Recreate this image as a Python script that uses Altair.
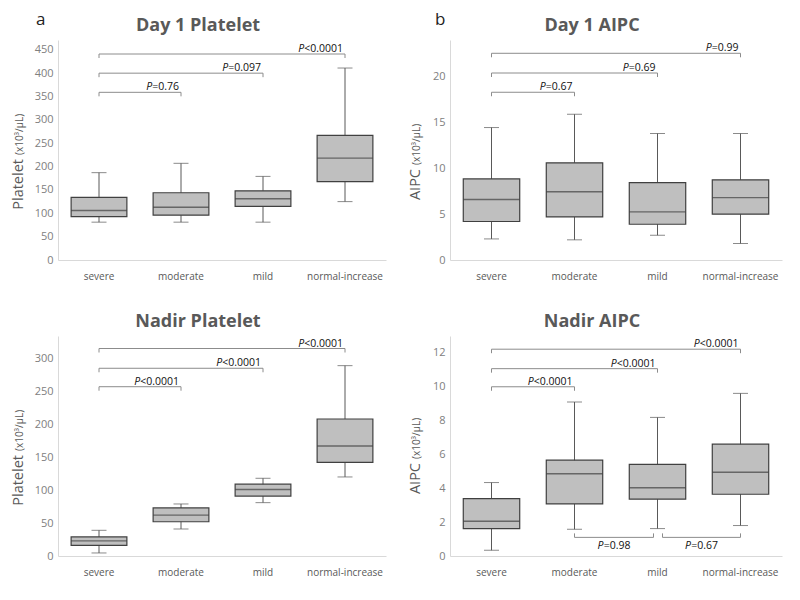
import altair as alt
import pandas as pd

cats = ["severe", "moderate", "mild", "normal-increase"]

# ---- Day 1 Platelet ----
d1p_low = [81, 81, 81, 125]
d1p_q1 = [93, 96, 115, 168]
d1p_med = [106, 113, 131, 218]
d1p_q3 = [134, 144, 148, 267]
d1p_high = [187, 207, 179, 411]
d1p_br_from = ["severe", "severe", "severe"]
d1p_br_to = ["moderate", "mild", "normal-increase"]
d1p_br_y = [359, 400, 441]
d1p_br_op = ["=", "=", "<"]
d1p_br_val = ["0.76", "0.097", "0.0001"]

# ---- Day 1 AIPC ----
d1a_low = [2.3, 2.2, 2.7, 1.8]
d1a_q1 = [4.2, 4.7, 3.9, 5.0]
d1a_med = [6.6, 7.45, 5.25, 6.8]
d1a_q3 = [8.85, 10.6, 8.45, 8.75]
d1a_high = [14.45, 15.9, 13.8, 13.8]
d1a_br_from = ["severe", "severe", "severe"]
d1a_br_to = ["moderate", "mild", "normal-increase"]
d1a_br_y = [18.3, 20.4, 22.55]
d1a_br_op = ["=", "=", "="]
d1a_br_val = ["0.67", "0.69", "0.99"]

# ---- Nadir Platelet ----
ndp_low = [4.6, 41, 81, 120]
ndp_q1 = [16, 52, 91, 142]
ndp_med = [23, 62, 101, 167]
ndp_q3 = [29, 73, 109, 208]
ndp_high = [39, 79, 118, 289]
ndp_br_from = ["severe", "severe", "severe"]
ndp_br_to = ["moderate", "mild", "normal-increase"]
ndp_br_y = [257, 285, 315]
ndp_br_op = ["<", "<", "<"]
ndp_br_val = ["0.0001", "0.0001", "0.0001"]

# ---- Nadir AIPC ----
nda_low = [0.34, 1.58, 1.62, 1.8]
nda_q1 = [1.62, 3.08, 3.36, 3.65]
nda_med = [2.05, 4.86, 4.03, 4.95]
nda_q3 = [3.39, 5.66, 5.41, 6.61]
nda_high = [4.34, 9.1, 8.19, 9.61]
nda_br_from = ["severe", "severe", "severe"]
nda_br_to = ["moderate", "mild", "normal-increase"]
nda_br_y = [10.0, 11.07, 12.22]
nda_br_op = ["<", "<", "<"]
nda_br_val = ["0.0001", "0.0001", "0.0001"]
nda_bb_from = ["moderate", "mild"]
nda_bb_to = ["mild", "normal-increase"]
nda_bb_y = [1.1, 1.1]
nda_bb_op = ["=", "="]
nda_bb_val = ["0.98", "0.67"]
nda_bb_off_from = [0, 5]
nda_bb_off_to = [-4, 0]

FONT = "Open Sans"
PFS = 10.5
EM = {".": 0.266, "P": 0.60}


def tw(s, size):
    return sum(EM.get(c, 0.572) for c in s) * size


BOXC = "#bfbfbf"
EDGE = "#404040"
WHISK = "#595959"
BRC = "#8c8c8c"
AXC = "#d9d9d9"
TXT = "#595959"


def panel(low, q1, med, q3, high, br, bb, title, letter, letter_x, ybig,
          ymax, ticks, width, junction, ytitle_x):
    height = 220
    step = width / 4.0
    df = pd.DataFrame({"cat": cats, "low": low, "q1": q1, "med": med,
                       "q3": q3, "high": high})
    xsc = alt.Scale(domain=cats, paddingInner=0, paddingOuter=0)
    xax = alt.Axis(title=None, labelAngle=0, ticks=False, domainColor=AXC,
                   labelColor=TXT, labelFont=FONT, labelFontSize=10,
                   labelPadding=11)
    ysc = alt.Scale(domain=[0, ymax], nice=False, zero=True)
    yax = alt.Axis(title=None, values=ticks, grid=False, ticks=False,
                   domainColor=AXC, labelColor="#808080", labelFont=FONT,
                   labelFontSize=11, labelPadding=5)

    def X(f):
        return alt.X(f, type="nominal", scale=xsc, axis=xax, sort=cats)

    def Y(f):
        return alt.Y(f, type="quantitative", scale=ysc, axis=yax)

    base = alt.Chart(df)
    layers = [
        base.mark_rule(color=WHISK, strokeWidth=1).encode(
            x=X("cat"), y=Y("low"), y2="high"),
        base.mark_bar(size=step * 0.68, fill=BOXC, stroke=EDGE,
                      strokeWidth=1.2).encode(x=X("cat"), y=Y("q1"), y2="q3"),
        base.mark_tick(size=step * 0.68, thickness=1.4, color=EDGE).encode(
            x=X("cat"), y=Y("med")),
        base.mark_tick(size=15, thickness=1, color=WHISK).encode(
            x=X("cat"), y=Y("low")),
        base.mark_tick(size=15, thickness=1, color=WHISK).encode(
            x=X("cat"), y=Y("high")),
    ]

    # top comparison brackets
    for f, t, yv, op, val in zip(*br):
        bdf = pd.DataFrame({"f": [f], "t": [t], "y": [yv],
                            "p": ["P"], "rest": [op + val]})
        bc = alt.Chart(bdf)
        rest = op + val
        layers += [
            bc.mark_rule(color=BRC, strokeWidth=1).encode(
                x=X("f"), x2="t", y=Y("y")),
            bc.mark_rule(color=BRC, strokeWidth=1, y2Offset=4).encode(
                x=X("f"), y=Y("y"), y2="y"),
            bc.mark_rule(color=BRC, strokeWidth=1, y2Offset=4).encode(
                x=X("t"), y=Y("y"), y2="y"),
            bc.mark_text(align="right", baseline="alphabetic", dx=-2, dy=-2,
                         font=FONT, fontSize=PFS, color="#111111").encode(
                x=X("t"), y=Y("y"), text="rest:N"),
            bc.mark_text(align="right", baseline="alphabetic",
                         dx=-2 - tw(rest, PFS), dy=-2, font=FONT,
                         fontSize=PFS, fontStyle="italic",
                         color="#111111").encode(
                x=X("t"), y=Y("y"), text="p:N"),
        ]

    # bottom comparison brackets
    if bb is not None:
        for f, t, yv, op, val, of, ot in zip(*bb):
            bdf = pd.DataFrame({"f": [f], "t": [t], "y": [yv],
                                "p": ["P"], "rest": [op + val]})
            bc = alt.Chart(bdf)
            rest = op + val
            span = (cats.index(t) - cats.index(f)) * step + ot - of
            wp = tw("P", PFS)
            wt = wp + tw(rest, PFS)
            start = of + span / 2 - wt / 2
            layers += [
                bc.mark_rule(color=BRC, strokeWidth=1, xOffset=of,
                             x2Offset=ot).encode(x=X("f"), x2="t", y=Y("y")),
                bc.mark_rule(color=BRC, strokeWidth=1, xOffset=of,
                             y2Offset=-4).encode(x=X("f"), y=Y("y"), y2="y"),
                bc.mark_rule(color=BRC, strokeWidth=1, xOffset=ot,
                             y2Offset=-4).encode(x=X("t"), y=Y("y"), y2="y"),
                bc.mark_text(align="left", baseline="top", dx=start, dy=4,
                             font=FONT, fontSize=PFS, fontStyle="italic",
                             color="#111111").encode(
                    x=X("f"), y=Y("y"), text="p:N"),
                bc.mark_text(align="left", baseline="top", dx=start + wp,
                             dy=4, font=FONT, fontSize=PFS,
                             color="#111111").encode(
                    x=X("f"), y=Y("y"), text="rest:N"),
            ]

    # titles as text: panel title, y title (big word + small unit), letter
    tdf = pd.DataFrame({"big": [ybig], "small": ["(x10\u00b3/\u03bcL)"],
                        "letter": [letter], "title": [title]})
    tc = alt.Chart(tdf)
    layers += [
        tc.mark_text(align="center", baseline="alphabetic", font=FONT,
                     fontSize=18, fontWeight="bold", color=TXT).encode(
            x=alt.value(width / 2 - 24), y=alt.value(-9), text="title:N"),
        tc.mark_text(angle=270, align="right", baseline="alphabetic",
                     font=FONT, fontSize=14.5, color=TXT).encode(
            x=alt.value(ytitle_x), y=alt.value(junction + 2), text="big:N"),
        tc.mark_text(angle=270, align="left", baseline="alphabetic",
                     font=FONT, fontSize=10, color=TXT).encode(
            x=alt.value(ytitle_x), y=alt.value(junction - 2), text="small:N"),
    ]
    if letter:
        layers.append(
            tc.mark_text(align="left", baseline="alphabetic", font=FONT,
                         fontSize=17, color="#222222").encode(
                x=alt.value(letter_x), y=alt.value(-15), text="letter:N"))

    return alt.layer(*layers).properties(width=width, height=height)


pa = panel(d1p_low, d1p_q1, d1p_med, d1p_q3, d1p_high,
           (d1p_br_from, d1p_br_to, d1p_br_y, d1p_br_op, d1p_br_val), None,
           "Day 1 Platelet", "a", -22, "Platelet", 471,
           [0, 50, 100, 150, 200, 250, 300, 350, 400, 450], 328, 117, -35)
pb = panel(d1a_low, d1a_q1, d1a_med, d1a_q3, d1a_high,
           (d1a_br_from, d1a_br_to, d1a_br_y, d1a_br_op, d1a_br_val), None,
           "Day 1 AIPC", "b", -15, "AIPC", 24,
           [0, 5, 10, 15, 20], 332, 127, -30)
pc = panel(ndp_low, ndp_q1, ndp_med, ndp_q3, ndp_high,
           (ndp_br_from, ndp_br_to, ndp_br_y, ndp_br_op, ndp_br_val), None,
           "Nadir Platelet", "", 0, "Platelet", 334,
           [0, 50, 100, 150, 200, 250, 300], 328, 117, -35)
pd_ = panel(nda_low, nda_q1, nda_med, nda_q3, nda_high,
            (nda_br_from, nda_br_to, nda_br_y, nda_br_op, nda_br_val),
            (nda_bb_from, nda_bb_to, nda_bb_y, nda_bb_op, nda_bb_val,
             nda_bb_off_from, nda_bb_off_to),
            "Nadir AIPC", "", 0, "AIPC", 13,
            [0, 2, 4, 6, 8, 10, 12], 332, 125, -30)

chart = alt.vconcat(
    alt.hconcat(pa, pb, spacing=22),
    alt.hconcat(pc, pd_, spacing=22),
    spacing=32,
).properties(
    padding={"left": 3, "top": 3, "right": 5, "bottom": 5},
    background="white",
).configure_view(stroke=None)

chart.save("out.html", embed_options={"renderer": "svg", "actions": False})
